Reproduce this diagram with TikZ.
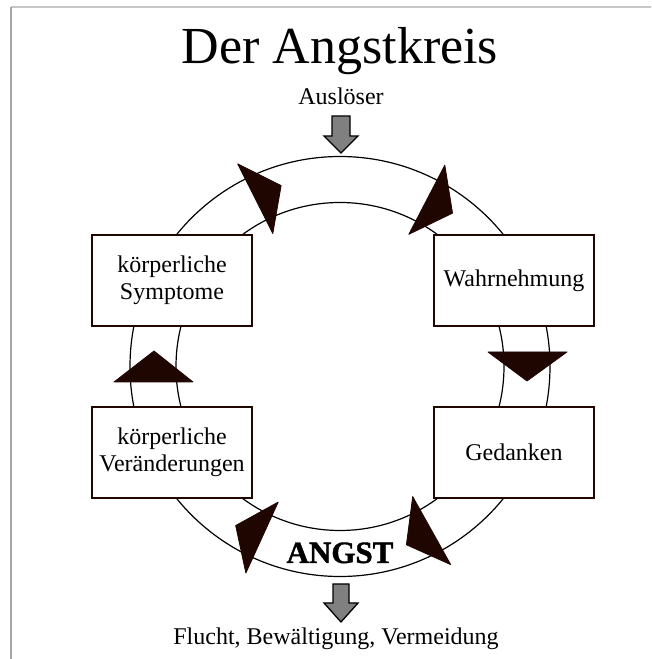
\documentclass[tikz,border=0pt]{standalone}
\usepackage{fontspec}
\setmainfont{Liberation Serif}
\newfontfamily\angstfont{Liberation Serif Bold}[FakeBold=1.3]
\usetikzlibrary{calc}
\definecolor{dkbrown}{RGB}{32,6,0}
\definecolor{arrgray}{RGB}{128,128,128}
\begin{document}
\begin{tikzpicture}[x=1pt,y=1pt,
  box/.style={draw=dkbrown, line width=1.5pt, fill=white, minimum width=160pt, minimum height=91pt, align=center, inner sep=0pt, font=\fontsize{24}{27}\selectfont},
  ring/.style={draw=black, line width=1.2pt},
  blockarrow/.style={draw=black, line width=1.3pt, fill=arrgray, line join=miter},
  tri/.style={fill=dkbrown, draw=dkbrown, line width=0.8pt, line join=round},
  lbl/.style={font=\fontsize{24}{27}\selectfont, anchor=base, inner sep=0pt},
]
\useasboundingbox (0,0) rectangle (651,659);
\draw[gray!45, line width=1.2pt] (11,652) -- (651,652);
\draw[gray!70, line width=1.2pt] (11,0) -- (11,652);
\coordinate (C) at (340,292.5);
\draw[ring] (C) circle[radius=210];
\draw[ring] (C) circle[radius=164];
\node[box] (sym) at (172,378.5) {körperliche\\Symptome};
\node[box] (wahr) at (514,378.5) {Wahrnehmung};
\node[box] (ver) at (172,206.5) {körperliche\\Veränderungen};
\node[box] (ged) at (514,206.5) {Gedanken};
% slanted arrowheads on the ring
\foreach \a in {62.5,116.8,245.5,299.2}
  \filldraw[tri] ($(C)+(\a:149)$) -- ($(C)+(\a:227)$) -- ($(C)+(\a:188)+(\a-90:29)$) -- cycle;
% upright arrowheads on the sides
\filldraw[tri] (114,277) -- (193,277) -- (154,308) -- cycle;
\filldraw[tri] (488,307) -- (567,307) -- (527,278) -- cycle;
\node[anchor=base, inner sep=0pt, font=\fontsize{52}{60}\selectfont] (title) at (340,595) {Der Angstkreis};
\node[lbl] (trig) at (341,554) {Auslöser};
\node[anchor=base, inner sep=0pt, font=\angstfont\fontsize{31}{36}\selectfont] (angst) at (340,96) {ANGST};
\node[lbl] (out) at (336,15) {Flucht, Bewältigung, Vermeidung};
\draw[blockarrow] (332,543) -- (350,543) -- (350,523) -- (358,523) -- (341,506) -- (324,523) -- (332,523) -- cycle;
\draw[blockarrow] (333,75) -- (349,75) -- (349,56) -- (358,56) -- (341,37) -- (324,56) -- (333,56) -- cycle;
\end{tikzpicture}
\end{document}
